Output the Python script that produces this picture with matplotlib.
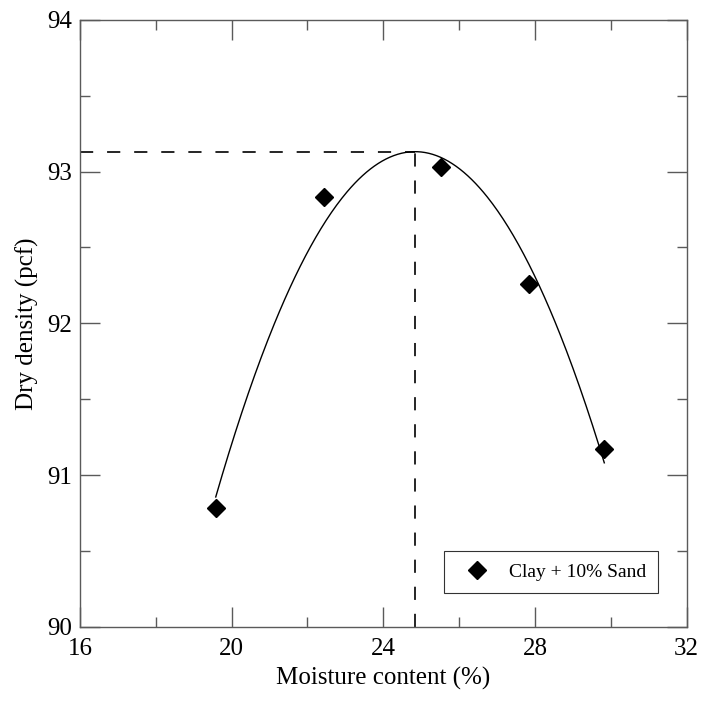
"""Compaction curve: dry density vs moisture content, clay + 10% sand."""

import matplotlib
matplotlib.use("Agg")
import matplotlib.pyplot as plt
import numpy as np
from matplotlib.ticker import MultipleLocator

plt.rcParams["font.family"] = ["Liberation Serif", "DejaVu Serif"]
plt.rcParams["lines.scale_dashes"] = False

# values
moisture = [19.58, 22.43, 25.51, 27.85, 29.83]
dry_density = [90.78, 92.83, 93.03, 92.26, 91.17]
series_label = "Clay + 10% Sand"
x_ticks = [16, 20, 24, 28, 32]
y_ticks = [90, 91, 92, 93, 94]

spine_color = "#5a5a5a"

fig = plt.figure(figsize=(7.02, 7.08), dpi=100)
ax = fig.add_axes([0.114, 0.1148, 0.864, 0.857])

# quadratic trend line through the points, peak marks the optimum
coef = np.polyfit(moisture, dry_density, 2)
xs = np.linspace(min(moisture), max(moisture), 300)
ax.plot(xs, np.polyval(coef, xs), color="black", linewidth=1.0)
x_opt = -coef[1] / (2 * coef[0])
y_opt = np.polyval(coef, x_opt)

ax.plot([x_ticks[0], x_opt], [y_opt, y_opt], color="black", linewidth=1.2, dashes=(9.5, 10))
ax.plot([x_opt, x_opt], [y_ticks[0], y_opt], color="black", linewidth=1.2, dashes=(9.5, 10))

ax.plot(moisture, dry_density, linestyle="none", marker="D", markersize=9.5,
        color="black", label=series_label)

ax.set_xlim(x_ticks[0], x_ticks[-1])
ax.set_ylim(y_ticks[0], y_ticks[-1])
ax.set_xticks(x_ticks)
ax.set_yticks(y_ticks)
ax.xaxis.set_minor_locator(MultipleLocator(2))
ax.yaxis.set_minor_locator(MultipleLocator(0.5))
ax.tick_params(which="both", direction="in", top=True, right=True,
               color=spine_color, width=1.0, labelsize=18)
ax.tick_params(which="major", length=14.4)
ax.tick_params(which="minor", length=7.2)
ax.tick_params(axis="x", which="major", pad=8)
ax.tick_params(axis="y", which="major", pad=6)
for sp in ax.spines.values():
    sp.set_color(spine_color)
    sp.set_linewidth(1.0)

ax.set_xlabel("Moisture content (%)", fontsize=18, labelpad=5)
ax.set_ylabel("Dry density (pcf)", fontsize=18, labelpad=5.5)

leg = ax.legend(loc="lower right", bbox_to_anchor=(0.9527, 0.0555), fontsize=14,
                frameon=True, fancybox=False, borderpad=0.62, handletextpad=0.5,
                handlelength=2.2, borderaxespad=0)
leg.get_frame().set_edgecolor("black")
leg.get_frame().set_linewidth(0.8)

fig.savefig("out.png", dpi=100)
